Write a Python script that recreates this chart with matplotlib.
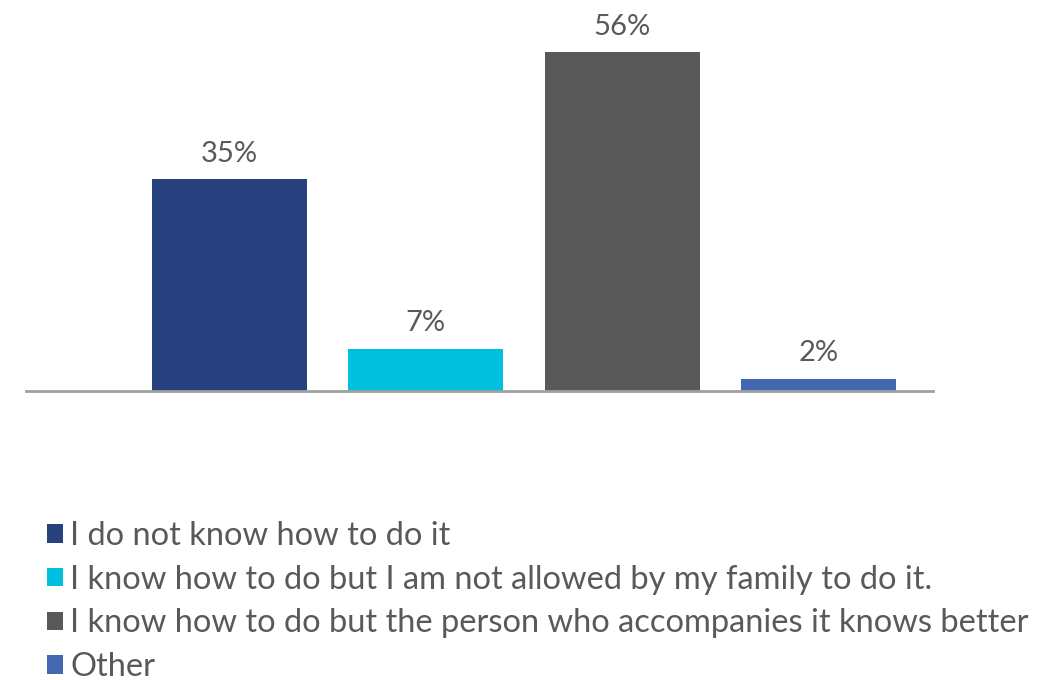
import matplotlib.pyplot as plt
from matplotlib.patches import Patch

categories = ['I do not know how to do it',
              'I know how to do but I am not allowed by my family to do it.',
              'I know how to do but the person who accompanies it knows better',
              'Other']
values = [35, 7, 56, 2]
labels = ['35%', '7%', '56%', '2%']
colors = ['#27407E', '#00C0E0', '#595959', '#4468B0']

text_color = '#595959'
plt.rcParams['font.family'] = ['Lato', 'DejaVu Sans']

fig = plt.figure(figsize=(10.51, 6.80), dpi=100)
ax = fig.add_axes([26 / 1051, 289 / 680, 907 / 1051, 363 / 680])

x = list(range(len(values)))
ax.bar(x, values, width=155 / 196.5, color=colors, zorder=2)
for xi, v, lab in zip(x, values, labels):
    ax.annotate(lab, (xi, v), xytext=(0, 9), textcoords='offset points',
                ha='center', va='bottom', fontsize=21, color=text_color)

ax.set_xlim(-203.5 / 196.5, 3 + 114.5 / 196.5)
ax.set_ylim(0, 60)
for side in ['top', 'right', 'left']:
    ax.spines[side].set_visible(False)
ax.spines['bottom'].set_color('#A0A0A0')
ax.spines['bottom'].set_linewidth(2)
ax.spines['bottom'].set_zorder(3)
ax.set_xticks([])
ax.set_yticks([])

handles = [Patch(facecolor=c, edgecolor='none') for c in colors]
fig.legend(handles, categories, loc='upper left',
           bbox_to_anchor=(47 / 1051, 1 - 521 / 680), frameon=False,
           fontsize=23.5, labelcolor=text_color, handlelength=0.49,
           handleheight=0.49, handletextpad=0.22, labelspacing=0.42,
           borderpad=0, borderaxespad=0)

fig.savefig('out.png', dpi=100)
